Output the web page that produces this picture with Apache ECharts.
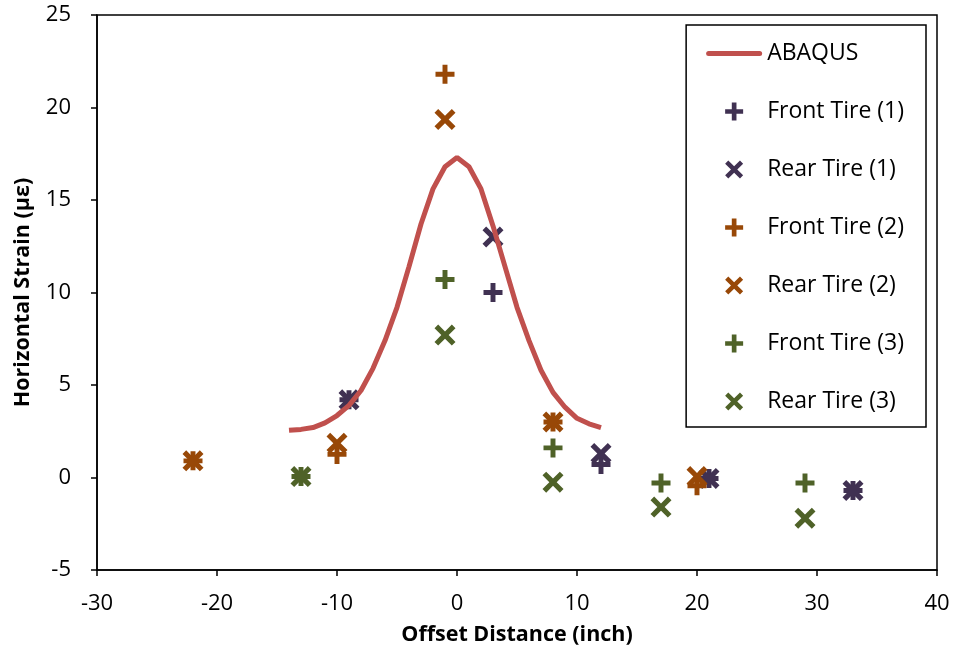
<!DOCTYPE html>
<html>
<head>
<meta charset="utf-8">
<script src="https://cdn.jsdelivr.net/npm/echarts@6/dist/echarts.min.js"></script>
<style>html,body{margin:0;padding:0;background:#fff}#c{width:955px;height:651px}</style>
</head>
<body>
<div id="c"></div>
<script>
// ABAQUS model curve
var abaqusX = [-14,-13,-12,-11,-10,-9,-8,-7,-6,-5,-4,-3,-2,-1,0,1,2,3,4,5,6,7,8,9,10,11,12];
var abaqusY = [2.55,2.6,2.7,2.95,3.35,3.9,4.7,5.9,7.4,9.2,11.4,13.7,15.6,16.8,17.3,16.8,15.6,13.6,11.4,9.2,7.4,5.8,4.6,3.8,3.2,2.9,2.7];

// Measured points [offset, strain]
var front1 = [[-9,4.2],[3,10.0],[12,0.7],[21,-0.05],[33,-0.7]];
var rear1  = [[-9,4.2],[3,13.0],[12,1.3],[21,-0.05],[33,-0.7]];
var front2 = [[-22,0.9],[-10,1.25],[-1,21.8],[8,3.0],[20,-0.45]];
var rear2  = [[-22,0.9],[-10,1.85],[-1,19.35],[8,3.0],[20,0.05]];
var front3 = [[-13,0.05],[-1,10.7],[8,1.6],[17,-0.3],[29,-0.3]];
var rear3  = [[-13,0.05],[-1,7.7],[8,-0.25],[17,-1.6],[29,-2.2]];

var seriesNames = ['ABAQUS','Front Tire (1)','Rear Tire (1)','Front Tire (2)','Rear Tire (2)','Front Tire (3)','Rear Tire (3)'];

var PLUS = 'path://M0,7.4H7.4V0H12.6V7.4H20V12.6H12.6V20H7.4V12.6H0Z';
var CROSS = 'path://M0,3.5L3.5,0L10,6.5L16.5,0L20,3.5L13.5,10L20,16.5L16.5,20L10,13.5L3.5,20L0,16.5L6.5,10Z';
var LINEICON = 'path://M2.5,0H53.5A2.5,2.5 0 0 1 53.5,5H2.5A2.5,2.5 0 0 1 2.5,0Z';

var FONT = "'Open Sans', 'Liberation Sans', sans-serif";
var purple = '#403152', orange = '#984807', green = '#4F6228', red = '#C0504D';

var abaqus = abaqusX.map(function(x,i){return [x, abaqusY[i]];});

function sc(name, data, sym, color, size){
  return {name:name, type:'scatter', data:data, symbol:sym, symbolSize:size,
          itemStyle:{color:color, opacity:1}};
}

var legendData = seriesNames.map(function(n){
  return n === 'ABAQUS' ? {name:n, icon:LINEICON, itemStyle:{color:red}} : {name:n};
});

var chart = echarts.init(document.getElementById('c'), null, {renderer:'canvas'});
chart.setOption({
  animation:false,
  backgroundColor:'#fff',
  textStyle:{fontFamily:FONT},
  grid:{left:97, right:18, top:15, bottom:81, show:true, borderColor:'#000', borderWidth:1.5, backgroundColor:'transparent'},
  xAxis:{type:'value', min:-30, max:40, interval:10,
    name:'Offset Distance (inch)', nameLocation:'middle', nameGap:54,
    nameTextStyle:{fontFamily:FONT, fontSize:21.5, fontWeight:'bold', color:'#000'},
    axisLine:{onZero:false, lineStyle:{color:'#000', width:1.5}},
    axisTick:{inside:false, length:6, lineStyle:{color:'#000', width:1.5}},
    axisLabel:{margin:23, fontFamily:FONT, fontSize:22, color:'#000'},
    splitLine:{show:false}},
  yAxis:{type:'value', min:-5, max:25, interval:5,
    name:'Horizontal Strain (με)', nameLocation:'middle', nameGap:63,
    nameTextStyle:{fontFamily:FONT, fontSize:21.5, fontWeight:'bold', color:'#000'},
    axisLine:{onZero:false, lineStyle:{color:'#000', width:1.5}},
    axisTick:{inside:false, length:6, lineStyle:{color:'#000', width:1.5}},
    axisLabel:{margin:26, fontFamily:FONT, fontSize:22, color:'#000'},
    splitLine:{show:false}},
  legend:{orient:'vertical', right:29, top:25, data:legendData,
    itemWidth:56, itemHeight:18, itemGap:35, symbolKeepAspect:true,
    padding:[17,22,14,20], backgroundColor:'#fff', borderColor:'#000', borderWidth:1.5, borderRadius:0,
    textStyle:{fontFamily:FONT, fontSize:23, color:'#000'}},
  series:[
    {name:'ABAQUS', type:'line', data:abaqus, symbol:'none', smooth:false,
     lineStyle:{color:red, width:5}, itemStyle:{color:red}},
    sc('Front Tire (1)', front1, PLUS, purple, 19),
    sc('Rear Tire (1)', rear1, CROSS, purple, 21),
    sc('Front Tire (2)', front2, PLUS, orange, 19),
    sc('Rear Tire (2)', rear2, CROSS, orange, 21),
    sc('Front Tire (3)', front3, PLUS, green, 19),
    sc('Rear Tire (3)', rear3, CROSS, green, 21)
  ]
});
</script>
</body>
</html>
